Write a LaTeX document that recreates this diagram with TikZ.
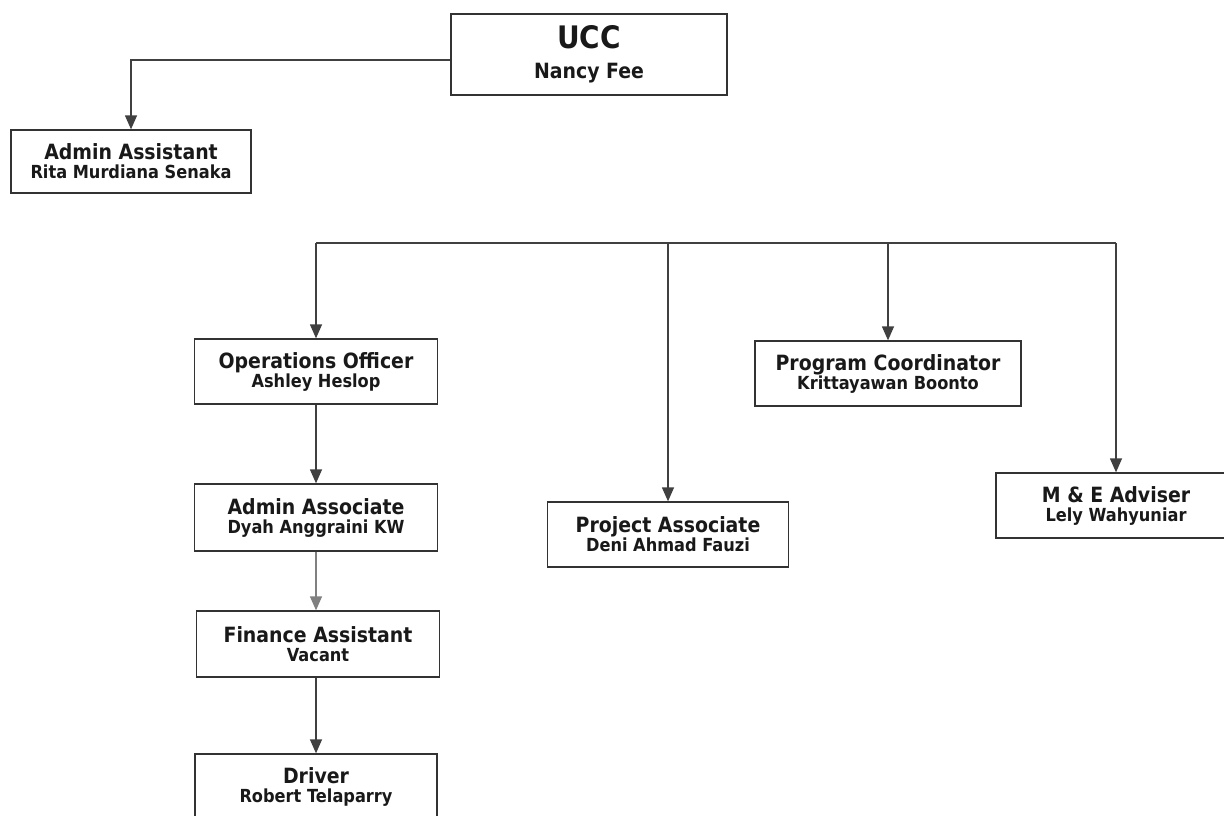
\documentclass[tikz,border=0pt]{standalone}
\usepackage{fontspec}
\newfontfamily\chartfont{DejaVu Sans}[FakeStretch=0.9]
\usetikzlibrary{arrows.meta}

\newcommand{\rolefont}{\fontsize{21}{22}\selectfont}
\newcommand{\namefont}{\fontsize{18}{19}\selectfont}
\newcommand{\headfont}{\fontsize{31}{32}\selectfont}
\newcommand{\chieffont}{\fontsize{21}{22}\selectfont}

\definecolor{boxline}{HTML}{333333}
\definecolor{linkline}{HTML}{404040}

\tikzset{
  post/.style={draw=boxline, line width=1.3pt, fill=white, align=center, inner sep=0pt,
    font=\chartfont\bfseries\namefont, text=black!90},
  link/.style={draw=linkline, line width=1.3pt, -{Triangle[width=12pt,length=14pt]}},
  feed/.style={link, draw=black!50},
  bus/.style={draw=linkline, line width=1.3pt}
}

\begin{document}
\begin{tikzpicture}[x=1pt,y=-1pt]
		\useasboundingbox (0,0) rectangle (1224,815);

		% top of the chart
		\node[post, minimum width=276pt, minimum height=81pt] (ucc) at (589,54.5)
			{{\headfont UCC}\\[11pt]{\chieffont Nancy Fee}};
		\node[post, minimum width=240pt, minimum height=63pt] (adminasst) at (131,161.5)
			{{\rolefont Admin Assistant}\\Rita Murdiana Senaka};

		% second row
		\node[post, minimum width=243pt, minimum height=65pt] (ops) at (316,371.5)
			{{\rolefont Operations Officer}\\Ashley Heslop};
		\node[post, minimum width=266pt, minimum height=65pt] (prog) at (888,373.5)
			{{\rolefont Program Coordinator}\\Krittayawan Boonto};
		\node[post, minimum width=241pt, minimum height=65pt] (proj) at (668,534.5)
			{{\rolefont Project Associate}\\Deni Ahmad Fauzi};
		\node[post, minimum width=240pt, minimum height=65pt] (me) at (1116,505.5)
			{{\rolefont M \& E Adviser}\\Lely Wahyuniar};

		% operations column
		\node[post, minimum width=243pt, minimum height=67pt] (adminassoc) at (316,517.5)
			{{\rolefont Admin Associate}\\Dyah Anggraini KW};
		\node[post, minimum width=243pt, minimum height=66pt] (finance) at (318,644)
			{{\rolefont Finance Assistant}\\Vacant};
		\node[post, minimum width=242pt, minimum height=65pt] (driver) at (316,786.5)
			{{\rolefont Driver}\\Robert Telaparry};

		\coordinate (hub) at (592,243);

		\draw[link] ([yshift=-5.5pt]ucc.west) -| (adminasst.north);
		\draw[bus] (hub -| ucc.south) -- (hub);
		\draw[bus] (hub -| ops.north) -- (hub -| me.north);

		\draw[link] (hub -| ops.north) -- (ops.north);
		\draw[link] (hub -| proj.north) -- (proj.north);
		\draw[link] (hub -| prog.north) -- (prog.north);
		\draw[link] (hub -| me.north) -- (me.north);

		\draw[link] (ops) -- (adminassoc);
		\draw[feed] (adminassoc) -- (adminassoc |- finance.north);
		\draw[link] (finance.south -| driver.north) -- (driver);
	\end{tikzpicture}
\end{document}
